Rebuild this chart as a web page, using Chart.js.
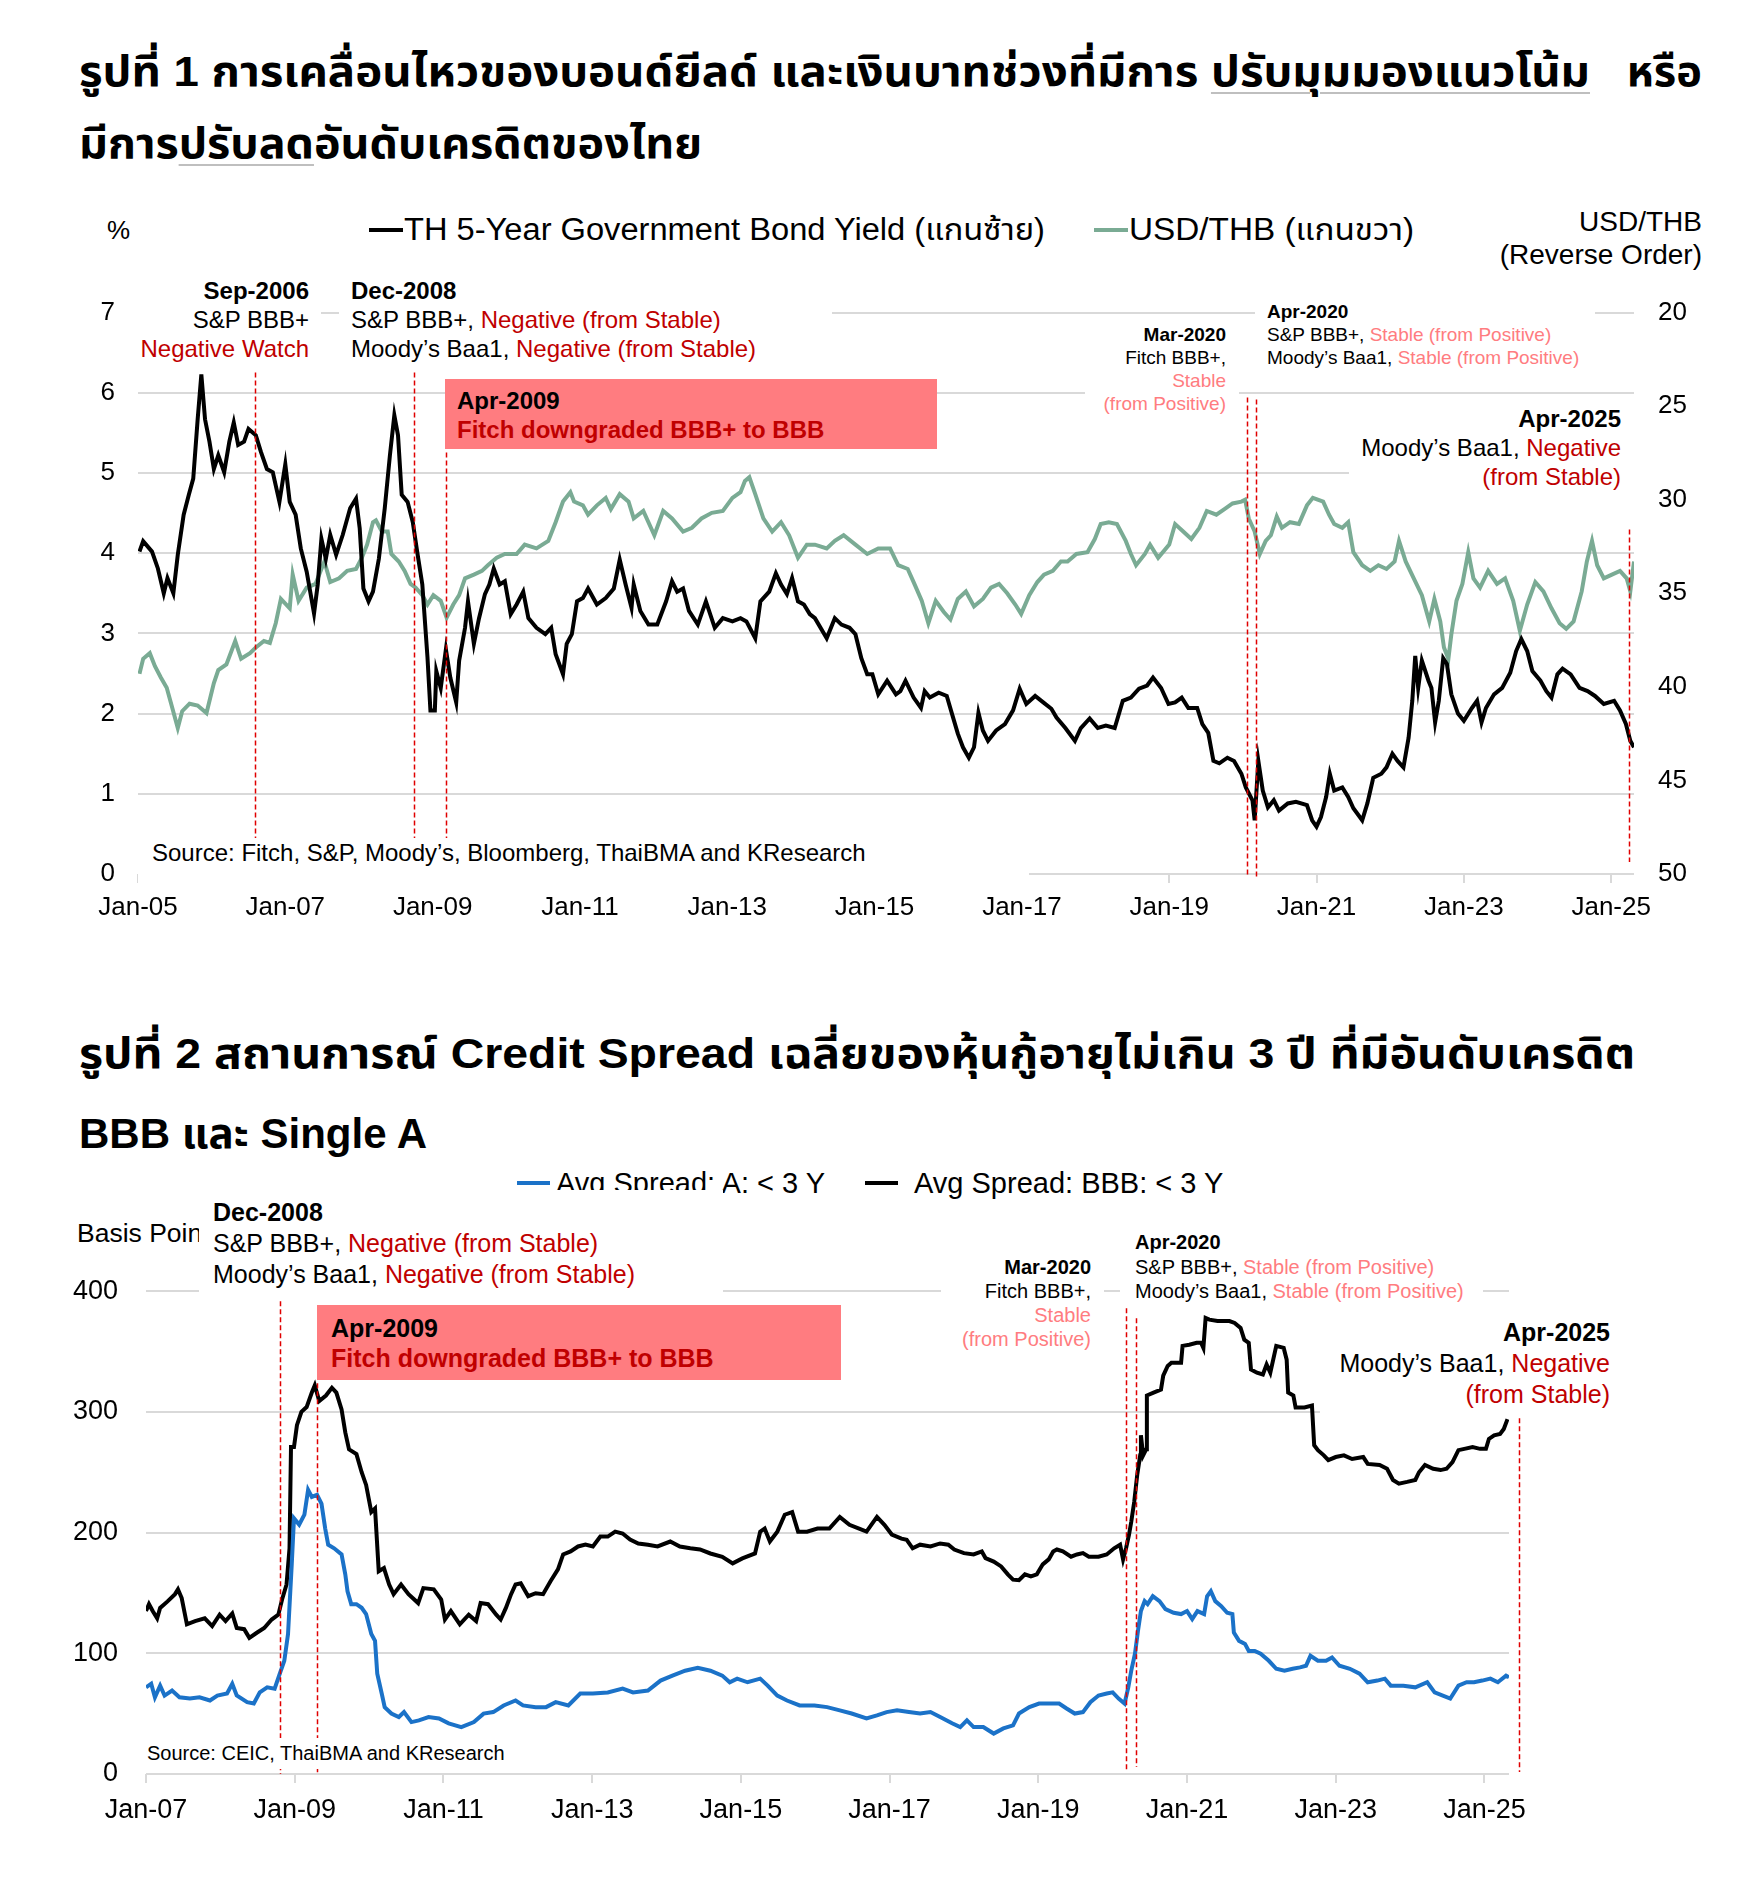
<!DOCTYPE html>
<html>
<head>
<meta charset="utf-8">
<script src="https://cdn.jsdelivr.net/npm/chart.js@4.4.1/dist/chart.umd.min.js"></script>
<style>
  body { margin: 0; width: 1762px; height: 1883px; position: relative; background: #fff; overflow: hidden;
         font-family: "Liberation Sans", Arial, "Noto Sans Thai", "Noto Sans", sans-serif; color: #000; }
  .abs { position: absolute; white-space: nowrap; }
  .title { font-weight: bold; font-size: 42px; line-height: 60px; }
  .ul { text-decoration: underline; text-decoration-color: #bfbfbf; text-decoration-thickness: 2px; text-underline-offset: 6px; }
  .box { background: #fff; }
  .r { color: #C00000; }
  .p { color: #FF7C80; }
  .b { font-weight: bold; }
  .pink { background: #FF7C80; font-weight: bold; }
  .mk { display: inline-block; position: absolute; height: 4px; }
  canvas { position: absolute; left: 0; }
</style>
</head>
<body>

<!-- Figure 1 -->
<div class="abs title fit" data-w="1511" style="left:79px; top:42px;">รูปที่ 1 การเคลื่อนไหวของบอนด์ยีลด์ และเงินบาทช่วงที่มีการ <span class="ul">ปรับมุมมองแนวโน้ม</span></div>
<div class="abs title fit" data-w="75" data-o="right" style="right:60px; top:42px;">หรือ</div>
<div class="abs title fit" data-w="623" style="left:79px; top:114px;">มีการ<span class="ul">ปรับลด</span>อันดับเครดิตของไทย</div>

<div class="abs" style="left:107px; top:212px; font-size:26px; line-height:36px;">%</div>
<div class="mk" style="left:369px; top:228px; width:34px; background:#000;"></div>
<div class="abs fit" data-w="641" style="left:404px; top:211px; font-size:31px; line-height:38px;">TH 5-Year Government Bond Yield (แกนซ้าย)</div>
<div class="mk" style="left:1094px; top:228px; width:34px; background:#7AAB94;"></div>
<div class="abs fit" data-w="285" style="left:1129px; top:211px; font-size:31px; line-height:38px;">USD/THB (แกนขวา)</div>
<div class="abs" style="right:60px; top:205px; font-size:28px; line-height:33px; text-align:right;">USD/THB<br>(Reverse Order)</div>

<canvas id="chart1" width="1762" height="667" style="top:273px;"></canvas>

<div class="abs box" style="left:138px; top:276px; width:171px; height:87px; padding-right:12px; text-align:right; font-size:24px; line-height:29px;"><span class="b">Sep-2006</span><br>S&amp;P BBB+<br><span class="r">Negative Watch</span></div>
<div class="abs box" style="left:339px; top:276px; width:481px; height:87px; padding-left:12px; font-size:24px; line-height:29px;"><span class="b">Dec-2008</span><br>S&amp;P BBB+, <span class="r">Negative (from Stable)</span><br>Moody’s Baa1, <span class="r">Negative (from Stable)</span></div>
<div class="abs pink" style="left:445px; top:379px; width:480px; height:63px; padding:7px 0 0 12px; font-size:24px; line-height:29px;">Apr-2009<br><span class="r">Fitch downgraded BBB+ to BBB</span></div>
<div class="abs box" style="left:1085px; top:323px; width:141px; height:93px; padding-right:13px; text-align:right; font-size:19px; line-height:23px;"><span class="b">Mar-2020</span><br>Fitch BBB+,<br><span class="p">Stable</span><br><span class="p">(from Positive)</span></div>
<div class="abs box" style="left:1255px; top:300px; width:328px; height:70px; padding-left:12px; font-size:19px; line-height:23px;"><span class="b">Apr-2020</span><br>S&amp;P BBB+, <span class="p">Stable (from Positive)</span><br>Moody’s Baa1, <span class="p">Stable (from Positive)</span></div>
<div class="abs box" style="left:1349px; top:404px; width:272px; height:88px; padding-right:13px; text-align:right; font-size:24px; line-height:29px;"><span class="b">Apr-2025</span><br>Moody’s Baa1, <span class="r">Negative</span><br><span class="r">(from Stable)</span></div>
<div class="abs box" style="left:138px; top:838px; width:877px; height:46px; padding-left:14px; font-size:24px; line-height:30px;">Source: Fitch, S&amp;P, Moody’s, Bloomberg, ThaiBMA and KResearch</div>

<!-- Figure 2 -->
<div class="abs title fit" data-w="1556" style="left:79px; top:1024px;">รูปที่ 2 สถานการณ์ Credit Spread เฉลี่ยของหุ้นกู้อายุไม่เกิน 3 ปี ที่มีอันดับเครดิต</div>
<div class="abs title fit" data-w="348" style="left:79px; top:1104px;">BBB และ Single A</div>

<div class="mk" style="left:517px; top:1181px; width:33px; background:#1B72C8;"></div>
<div class="abs" style="left:556px; top:1165px; font-size:29px; line-height:36px;">Avg Spread: A: &lt; 3 Y</div>
<div class="mk" style="left:865px; top:1181px; width:33px; background:#000;"></div>
<div class="abs" style="left:914px; top:1165px; font-size:29px; line-height:36px;">Avg Spread: BBB: &lt; 3 Y</div>
<div class="abs" style="left:77px; top:1218px; font-size:26.5px; line-height:30px;">Basis Points</div>

<canvas id="chart2" width="1762" height="633" style="top:1247px;"></canvas>

<div class="abs box" style="left:199px; top:1190px; width:510px; height:95px; padding:7px 0 0 14px; font-size:25px; line-height:31px;"><span class="b">Dec-2008</span><br>S&amp;P BBB+, <span class="r">Negative (from Stable)</span><br>Moody’s Baa1, <span class="r">Negative (from Stable)</span></div>
<div class="abs pink" style="left:317px; top:1305px; width:510px; height:67px; padding:8px 0 0 14px; font-size:25px; line-height:30px;">Apr-2009<br><span class="r">Fitch downgraded BBB+ to BBB</span></div>
<div class="abs box" style="left:941px; top:1255px; width:150px; height:96px; padding-right:13px; text-align:right; font-size:20px; line-height:24px;"><span class="b">Mar-2020</span><br>Fitch BBB+,<br><span class="p">Stable</span><br><span class="p">(from Positive)</span></div>
<div class="abs box" style="left:1120px; top:1230px; width:348px; height:74px; padding-left:15px; font-size:20px; line-height:24.5px;"><span class="b">Apr-2020</span><br>S&amp;P BBB+, <span class="p">Stable (from Positive)</span><br>Moody’s Baa1, <span class="p">Stable (from Positive)</span></div>
<div class="abs box" style="left:1320px; top:1317px; width:290px; height:96px; padding-right:10px; text-align:right; font-size:25px; line-height:31px;"><span class="b">Apr-2025</span><br>Moody’s Baa1, <span class="r">Negative</span><br><span class="r">(from Stable)</span></div>
<div class="abs box" style="left:146px; top:1738px; width:373px; height:31px; padding-left:1px; font-size:20px; line-height:30px;">Source: CEIC, ThaiBMA and KResearch</div>

<script>
// ---- Figure 1 data (decimal years) ----
const bondYears = [
  2005.02,2005.07,2005.19,2005.27,2005.35,2005.40,2005.48,2005.54,2005.62,2005.69,
  2005.75,2005.81,2005.86,2005.91,2005.97,2006.03,2006.09,2006.17,2006.24,2006.30,
  2006.36,2006.44,2006.50,2006.60,2006.67,2006.75,2006.83,2006.92,2007.00,2007.06,
  2007.14,2007.21,2007.29,2007.39,2007.44,2007.49,2007.55,2007.61,2007.69,2007.78,
  2007.88,2007.96,2008.01,2008.06,2008.13,2008.19,2008.27,2008.35,2008.42,2008.48,
  2008.53,2008.58,2008.66,2008.73,2008.79,2008.86,2008.93,2008.97,2009.03,2009.05,
  2009.11,2009.18,2009.24,2009.32,2009.36,2009.44,2009.48,2009.56,2009.63,2009.71,
  2009.77,2009.83,2009.91,2009.98,2010.06,2010.14,2010.23,2010.30,2010.41,2010.53,
  2010.61,2010.67,2010.77,2010.82,2010.89,2010.96,2011.04,2011.11,2011.23,2011.35,
  2011.46,2011.54,2011.62,2011.70,2011.73,2011.82,2011.93,2012.05,2012.17,2012.25,
  2012.32,2012.40,2012.48,2012.60,2012.71,2012.83,2012.94,2013.07,2013.18,2013.26,
  2013.38,2013.45,2013.57,2013.66,2013.73,2013.81,2013.88,2013.96,2014.04,2014.12,
  2014.19,2014.35,2014.46,2014.55,2014.66,2014.74,2014.82,2014.90,2014.97,2015.05,
  2015.17,2015.29,2015.35,2015.42,2015.53,2015.63,2015.68,2015.75,2015.87,2015.98,
  2016.05,2016.13,2016.20,2016.28,2016.35,2016.41,2016.47,2016.54,2016.65,2016.77,
  2016.88,2016.97,2017.06,2017.18,2017.29,2017.40,2017.47,2017.59,2017.72,2017.80,
  2017.92,2018.03,2018.14,2018.26,2018.37,2018.48,2018.59,2018.70,2018.78,2018.89,
  2018.99,2019.08,2019.17,2019.26,2019.38,2019.45,2019.53,2019.60,2019.68,2019.79,
  2019.88,2019.98,2020.04,2020.13,2020.16,2020.21,2020.27,2020.34,2020.42,2020.49,
  2020.61,2020.72,2020.87,2020.94,2021.00,2021.06,2021.13,2021.18,2021.24,2021.35,
  2021.43,2021.50,2021.62,2021.69,2021.77,2021.88,2021.95,2022.03,2022.10,2022.18,
  2022.25,2022.30,2022.34,2022.38,2022.43,2022.52,2022.56,2022.61,2022.66,2022.72,
  2022.77,2022.83,2022.92,2023.00,2023.11,2023.18,2023.24,2023.30,2023.41,2023.52,
  2023.63,2023.71,2023.78,2023.86,2023.93,2024.04,2024.12,2024.19,2024.27,2024.34,
  2024.45,2024.57,2024.68,2024.78,2024.90,2025.04,2025.12,2025.20,2025.26,2025.31
];
const bondYield = [
  4.02,4.15,4.02,3.81,3.50,3.69,3.50,3.98,4.48,4.73,
  4.93,5.67,6.23,5.67,5.39,5.05,5.22,5.01,5.39,5.63,
  5.35,5.39,5.55,5.47,5.26,5.05,5.01,4.64,5.11,4.64,
  4.48,4.06,3.77,3.25,3.61,4.18,3.93,4.23,3.98,4.23,
  4.56,4.68,4.31,3.56,3.40,3.52,3.93,4.56,5.22,5.72,
  5.47,4.73,4.64,4.39,4.02,3.61,2.70,2.04,2.04,2.53,
  2.32,2.80,2.45,2.14,2.66,3.07,3.40,2.87,3.19,3.49,
  3.61,3.81,3.61,3.65,3.24,3.36,3.52,3.19,3.07,2.99,
  3.07,2.74,2.49,2.87,2.99,3.40,3.44,3.56,3.36,3.44,
  3.56,3.92,3.61,3.32,3.61,3.28,3.11,3.11,3.40,3.65,
  3.52,3.56,3.28,3.11,3.40,3.07,3.19,3.15,3.19,3.15,
  2.94,3.40,3.52,3.75,3.61,3.49,3.69,3.40,3.36,3.24,
  3.19,2.94,3.19,3.11,3.07,2.99,2.69,2.49,2.49,2.24,
  2.41,2.24,2.28,2.41,2.20,2.07,2.28,2.20,2.26,2.22,
  2.00,1.75,1.58,1.45,1.58,2.01,1.79,1.66,1.79,1.87,
  2.04,2.31,2.12,2.22,2.14,2.06,1.95,1.82,1.66,1.82,
  1.94,1.82,1.85,1.82,2.16,2.20,2.31,2.35,2.45,2.32,
  2.12,2.14,2.20,2.07,2.07,1.87,1.76,1.41,1.38,1.45,
  1.41,1.25,1.08,0.92,0.67,1.41,1.04,0.83,0.92,0.79,
  0.88,0.90,0.86,0.67,0.59,0.71,0.96,1.25,1.04,1.08,
  0.96,0.82,0.67,0.88,1.20,1.25,1.33,1.50,1.41,1.33,
  1.70,2.16,2.72,2.32,2.66,2.41,2.32,1.89,2.16,2.69,
  2.62,2.24,2.00,1.91,2.07,2.16,1.89,2.07,2.24,2.32,
  2.51,2.78,2.93,2.78,2.53,2.41,2.28,2.20,2.49,2.56,
  2.49,2.32,2.28,2.22,2.12,2.16,2.04,1.87,1.66,1.58
];
const fxYears = [
  2005.02,2005.07,2005.16,2005.23,2005.31,2005.39,2005.45,2005.54,2005.60,2005.70,
  2005.81,2005.93,2006.03,2006.09,2006.20,2006.32,2006.40,2006.52,2006.60,2006.71,
  2006.79,2006.87,2006.94,2007.06,2007.10,2007.18,2007.29,2007.41,2007.53,2007.61,
  2007.73,2007.84,2007.96,2008.04,2008.11,2008.19,2008.23,2008.31,2008.39,2008.44,
  2008.54,2008.62,2008.70,2008.77,2008.86,2008.93,2009.01,2009.11,2009.19,2009.28,
  2009.36,2009.44,2009.56,2009.67,2009.75,2009.87,2009.98,2010.14,2010.25,2010.41,
  2010.57,2010.67,2010.77,2010.87,2010.92,2011.04,2011.11,2011.23,2011.35,2011.42,
  2011.54,2011.66,2011.73,2011.86,2012.01,2012.13,2012.25,2012.40,2012.52,2012.65,
  2012.79,2012.94,2013.07,2013.18,2013.24,2013.30,2013.38,2013.49,2013.61,2013.73,
  2013.84,2013.96,2014.08,2014.19,2014.35,2014.46,2014.58,2014.74,2014.90,2015.05,
  2015.21,2015.32,2015.45,2015.53,2015.64,2015.73,2015.83,2015.94,2016.03,2016.13,
  2016.24,2016.35,2016.47,2016.58,2016.69,2016.80,2016.91,2016.99,2017.10,2017.21,
  2017.30,2017.42,2017.53,2017.62,2017.74,2017.89,2017.99,2018.07,2018.18,2018.29,
  2018.41,2018.48,2018.55,2018.67,2018.74,2018.85,2019.00,2019.08,2019.19,2019.30,
  2019.41,2019.51,2019.64,2019.75,2019.86,2019.98,2020.03,2020.08,2020.16,2020.23,
  2020.31,2020.38,2020.46,2020.53,2020.64,2020.76,2020.87,2020.95,2021.09,2021.17,
  2021.24,2021.35,2021.43,2021.50,2021.62,2021.73,2021.84,2021.95,2022.06,2022.12,
  2022.21,2022.32,2022.43,2022.53,2022.60,2022.68,2022.73,2022.79,2022.83,2022.90,
  2022.98,2023.06,2023.13,2023.22,2023.33,2023.45,2023.56,2023.67,2023.76,2023.86,
  2023.97,2024.08,2024.19,2024.30,2024.39,2024.49,2024.60,2024.67,2024.74,2024.81,
  2024.90,2025.01,2025.12,2025.21,2025.26,2025.31
];
const fxRate = [
  39.3,38.5,38.2,38.9,39.5,40.05,40.9,42.2,41.3,40.9,
  41.0,41.4,39.8,39.1,38.8,37.55,38.5,38.2,37.9,37.55,
  37.65,36.6,35.3,35.8,34.0,35.4,34.7,34.5,33.3,34.4,
  34.2,33.8,33.7,33.1,32.4,31.2,31.1,31.7,31.7,32.9,
  33.3,33.8,34.5,34.7,35.1,35.6,35.1,35.4,36.3,35.6,
  35.1,34.2,34.0,33.8,33.5,33.1,32.9,32.9,32.4,32.6,
  32.2,31.2,30.1,29.6,30.1,30.3,30.8,30.3,29.9,30.5,
  29.7,30.1,31.0,30.6,31.9,30.6,31.0,31.7,31.5,31.0,
  30.7,30.6,29.9,29.6,29.0,28.8,29.7,31.0,31.7,31.2,
  31.9,33.1,32.4,32.4,32.6,32.2,31.9,32.4,32.9,32.6,
  32.6,33.5,33.7,34.4,35.4,36.6,35.4,36.0,36.4,35.3,
  34.9,35.7,35.3,34.7,34.5,35.0,35.6,36.1,35.1,34.4,
  34.0,33.8,33.3,33.3,32.9,32.8,32.1,31.3,31.2,31.3,
  32.2,32.9,33.5,32.9,32.4,33.1,32.4,31.3,31.7,32.1,
  31.5,30.6,30.8,30.5,30.2,30.1,30.0,31.0,31.7,32.9,
  32.2,31.9,30.9,31.5,31.2,31.3,30.3,29.9,30.1,30.8,
  31.3,31.5,31.2,32.8,33.5,33.8,33.5,33.7,33.3,32.2,
  33.3,34.2,35.1,36.5,35.3,36.5,37.9,38.5,37.2,35.4,
  34.5,32.8,34.2,34.7,33.8,34.5,34.2,35.4,37.0,35.6,
  34.4,34.9,35.8,36.6,36.9,36.5,34.9,33.3,32.2,33.5,
  34.2,34.0,33.8,34.2,34.9,33.3
];
const xTickYears1 = [2005,2007,2009,2011,2013,2015,2017,2019,2021,2023,2025];
const xTickLabels1 = ['Jan-05','Jan-07','Jan-09','Jan-11','Jan-13','Jan-15','Jan-17','Jan-19','Jan-21','Jan-23','Jan-25'];
const leftTicks1 = [0,1,2,3,4,5,6,7];
const rightTicks1 = [20,25,30,35,40,45,50];
const eventNames1 = ['Sep-2006','Dec-2008','Apr-2009','Mar-2020','Apr-2020','Apr-2025'];
const eventYears1 = [2006.59,2008.75,2009.18,2020.06,2020.18,2025.24];

// ---- Figure 2 data ----
const spreadYearsA = [
  2007.00,2007.07,2007.12,2007.19,2007.25,2007.35,2007.45,2007.59,2007.72,2007.86,
  2007.96,2008.09,2008.16,2008.22,2008.36,2008.45,2008.53,2008.63,2008.73,2008.79,
  2008.86,2008.91,2008.96,2008.99,2009.06,2009.13,2009.18,2009.23,2009.30,2009.36,
  2009.41,2009.45,2009.53,2009.63,2009.68,2009.71,2009.76,2009.83,2009.90,2009.96,
  2010.03,2010.08,2010.11,2010.17,2010.21,2010.30,2010.40,2010.47,2010.57,2010.67,
  2010.80,2010.94,2011.07,2011.24,2011.41,2011.54,2011.67,2011.81,2011.97,2012.07,
  2012.24,2012.38,2012.51,2012.68,2012.84,2013.01,2013.21,2013.41,2013.55,2013.75,
  2013.92,2014.08,2014.25,2014.42,2014.59,2014.75,2014.85,2014.95,2015.09,2015.26,
  2015.36,2015.49,2015.62,2015.79,2015.99,2016.16,2016.33,2016.49,2016.69,2016.83,
  2016.96,2017.10,2017.26,2017.41,2017.55,2017.68,2017.84,2017.95,2018.04,2018.13,
  2018.26,2018.40,2018.53,2018.66,2018.74,2018.88,2019.01,2019.14,2019.28,2019.38,
  2019.49,2019.60,2019.70,2019.81,2019.92,2020.00,2020.08,2020.16,2020.21,2020.25,
  2020.30,2020.34,2020.38,2020.43,2020.47,2020.54,2020.63,2020.71,2020.82,2020.92,
  2021.00,2021.07,2021.14,2021.23,2021.27,2021.32,2021.38,2021.46,2021.54,2021.61,
  2021.63,2021.70,2021.78,2021.83,2021.91,2021.99,2022.10,2022.20,2022.31,2022.42,
  2022.52,2022.60,2022.66,2022.76,2022.87,2022.95,2023.05,2023.19,2023.32,2023.43,
  2023.56,2023.66,2023.74,2023.91,2024.07,2024.23,2024.33,2024.44,2024.54,2024.65,
  2024.76,2024.86,2024.97,2025.08,2025.18,2025.29,2025.33
];
const spreadA = [
  71.8,74.8,63.6,73.2,65,69.1,63.6,62.5,63.6,60.9,
  65,66.7,74.8,65,59.5,58.4,67.6,71.8,70.7,81.5,
  93.8,116,173.7,211.8,206.6,214.8,235.4,229.6,231.3,224,
  203.3,190,187,181.9,165.4,151.4,140.7,140.7,137.7,132.5,
  116,110.3,83.1,66.7,55.3,50.1,47.2,51.3,43,44.4,
  47.2,46,42,38.9,43,50,51.3,56.8,60.9,56.8,
  55.4,55.4,59.5,56.8,66.7,66.7,67.6,70.7,67.6,69.1,
  77.4,81.5,85.6,88,85.6,81.5,76,79,76,79,
  73.2,65,60.9,56.8,56.8,55.4,52.7,50.1,46,48.6,
  51.3,52.7,51.3,50.1,51.3,47.2,42,38.9,44.4,38.9,
  38.9,33.5,37.8,40.3,50.1,55.4,58.4,58.4,58.4,54.3,
  50.1,51.3,59.5,65,66.7,67.6,62.5,58.4,71.8,85.6,
  99.6,118.5,135,143.2,140.7,147.3,143.2,136.6,133.6,132.5,
  135,128.4,135,132.5,147.3,151.4,143.2,139.1,133.6,132.5,
  117.1,110.3,107.8,102,102,99.6,93.8,87.2,85.6,87.2,
  88.3,89.7,97.9,93.8,93.8,96.5,89.7,87.2,83.1,76,
  77.4,79,73.2,73.2,71.8,76,67.6,65,62.5,73.2,
  76,76,77.4,79,76,81.5,80.1
];
const spreadYearsBBB = [
  2007.00,2007.04,2007.09,2007.15,2007.19,2007.29,2007.39,2007.43,2007.48,2007.55,
  2007.66,2007.79,2007.89,2007.99,2008.07,2008.16,2008.22,2008.32,2008.39,2008.49,
  2008.59,2008.69,2008.78,2008.83,2008.89,2008.93,2008.95,2008.99,2009.03,2009.09,
  2009.16,2009.23,2009.27,2009.33,2009.42,2009.50,2009.56,2009.63,2009.68,2009.73,
  2009.83,2009.90,2009.96,2010.03,2010.08,2010.13,2010.20,2010.27,2010.33,2010.43,
  2010.53,2010.66,2010.73,2010.87,2010.97,2011.02,2011.10,2011.22,2011.34,2011.44,
  2011.50,2011.60,2011.71,2011.77,2011.84,2011.91,2011.97,2012.04,2012.14,2012.24,
  2012.34,2012.44,2012.54,2012.61,2012.71,2012.81,2012.91,2013.01,2013.11,2013.21,
  2013.31,2013.41,2013.51,2013.62,2013.75,2013.88,2014.05,2014.18,2014.32,2014.45,
  2014.59,2014.75,2014.89,2015.02,2015.19,2015.26,2015.32,2015.39,2015.49,2015.59,
  2015.69,2015.77,2015.89,2016.03,2016.19,2016.33,2016.46,2016.59,2016.69,2016.83,
  2016.93,2017.03,2017.16,2017.23,2017.31,2017.41,2017.55,2017.68,2017.79,2017.87,
  2018.00,2018.13,2018.24,2018.29,2018.40,2018.50,2018.59,2018.66,2018.74,2018.82,
  2018.90,2018.98,2019.06,2019.14,2019.20,2019.25,2019.33,2019.44,2019.52,2019.60,
  2019.68,2019.81,2019.92,2020.02,2020.10,2020.14,2020.18,2020.22,2020.25,2020.29,
  2020.33,2020.37,2020.38,2020.41,2020.45,2020.46,2020.55,2020.65,2020.68,2020.74,
  2020.79,2020.92,2020.94,2021.03,2021.13,2021.19,2021.22,2021.25,2021.30,2021.41,
  2021.57,2021.64,2021.72,2021.77,2021.83,2021.86,2021.94,2022.02,2022.07,2022.12,
  2022.20,2022.30,2022.34,2022.36,2022.43,2022.46,2022.58,2022.68,2022.71,2022.76,
  2022.84,2022.90,2023.00,2023.11,2023.22,2023.37,2023.43,2023.59,2023.69,2023.77,
  2023.85,2023.96,2024.07,2024.12,2024.20,2024.31,2024.41,2024.49,2024.57,2024.65,
  2024.73,2024.84,2024.94,2025.02,2025.06,2025.13,2025.21,2025.26,2025.31
];
const spreadBBB = [
  135,140.7,135,129,137.6,143,149,153,145.8,124,
  126.7,129,122.6,132,126.7,133,121,120,112.8,117,
  121,128,132,144.6,157,187,271,271,289,300,
  304,316,322,309,313.6,320,316,302,283,269,
  265,250,239.5,217,220,168,170.6,157,149,157,
  149,141.6,154,153,144.6,128,135,124,132,126.7,
  141.6,140.7,132,128,137.6,149,157,158,147.3,149.8,
  149,159.7,169.5,181.9,184.4,188.5,190,188.5,196.7,196.7,
  200.8,199.2,194.2,191,190,188.5,192.6,188.5,187,186,
  182.7,180,174.5,178.6,182.7,200.8,203.3,192.6,200.8,214.8,
  217,200.8,200.8,203.3,203.3,213,206.4,203.3,200.8,213,
  206.4,198.4,195,194,187,190,188.5,191,190,186,
  183,181.9,184.4,178.9,176,172,165.4,161,160.5,165.4,
  163.8,165.4,173.7,177.8,184.4,186,184.4,180,181.9,183,
  180,180,181.9,187,190,177.8,187,198.4,209,225.5,
  247.7,264,280.6,264,269,313.6,316,318.5,330,338,
  340.7,340.7,354.7,355.6,357.2,357.2,353,377.8,376.4,375.3,
  375.3,373.7,369.5,359.8,357.2,335.2,332.5,331,339.3,332.5,
  354.7,353,343.3,316,313.6,303.7,303.7,305.3,272.4,268.3,
  264,260,262.6,264,261,262.6,256.9,256,252.9,243.6,
  240.6,242,243.6,250,256,252.9,251.8,252.9,258.4,268.3,
  269.4,270.8,269.4,269.4,277.6,280.6,281.7,285.8,294
];
const xTickYears2 = [2007,2009,2011,2013,2015,2017,2019,2021,2023,2025];
const xTickLabels2 = ['Jan-07','Jan-09','Jan-11','Jan-13','Jan-15','Jan-17','Jan-19','Jan-21','Jan-23','Jan-25'];
const yTicks2 = [0,100,200,300,400];
const eventNames2 = ['Dec-2008','Apr-2009','Mar-2020','Apr-2020','Apr-2025'];
const eventYears2 = [2008.80,2009.30,2020.18,2020.32,2025.47];

// how far each dashed marker line reaches (px from top / bottom of plot area)
const lineTop1 = [60,60,140,85,87,217], lineBottom1 = [0,0,0,3,5,-12];
const lineTop2 = [10,92,17,27,127], lineBottom2 = [0,0,-2,-7,-2];

const FONT = '"Liberation Sans", Arial, sans-serif';
const GRID = '#D9D9D9';

// stretch titles / legend texts to the widths they take in the original
document.querySelectorAll('.fit').forEach(el => {
  const w = el.getBoundingClientRect().width;
  el.style.transformOrigin = el.dataset.o === 'right' ? 'right center' : 'left center';
  el.style.transform = 'scaleX(' + (el.dataset.w / w).toFixed(4) + ')';
});

const toPoints = (xs, ys) => xs.map((x, i) => ({ x: x, y: ys[i] }));

const eventLines = {
  id: 'eventLines',
  afterDatasetsDraw(chart, args, opts) {
    const ctx = chart.ctx, area = chart.chartArea, xs = chart.scales.x;
    ctx.save();
    ctx.strokeStyle = '#E00000';
    ctx.lineWidth = 1.5;
    ctx.setLineDash([5, 3]);
    opts.years.forEach((yr, i) => {
      const x = Math.round(xs.getPixelForValue(yr)) + 0.5;
      ctx.beginPath();
      ctx.moveTo(x, area.top + opts.tops[i]);
      ctx.lineTo(x, area.bottom + opts.bottoms[i]);
      ctx.stroke();
    });
    ctx.restore();
  }
};

function xAxis(min, max, years, labels, size, pad, height) {
  return {
    type: 'linear', min: min, max: max,
    afterBuildTicks: (ax) => { ax.ticks = years.map(v => ({ value: v })); },
    afterFit: (ax) => { ax.height = height; },
    ticks: {
      autoSkip: false, maxRotation: 0, padding: pad, color: '#000',
      font: { family: FONT, size: size },
      callback: (v) => labels[years.indexOf(v)]
    },
    grid: { drawOnChartArea: false, drawTicks: true, tickLength: 9, color: GRID, lineWidth: 2 },
    border: { display: false }
  };
}

new Chart(document.getElementById('chart1'), {
  type: 'line',
  data: {
    datasets: [
      { label: 'TH 5-Year Government Bond Yield (แกนซ้าย)', data: toPoints(bondYears, bondYield),
        yAxisID: 'y', borderColor: '#000', borderWidth: 4, pointRadius: 0, tension: 0 },
      { label: 'USD/THB (แกนขวา)', data: toPoints(fxYears, fxRate),
        yAxisID: 'y2', borderColor: '#7AAB94', borderWidth: 4, pointRadius: 0, tension: 0 }
    ]
  },
  options: {
    responsive: false, animation: false,
    layout: { padding: { top: 10, left: 0, right: 0, bottom: 0 } },
    plugins: {
      legend: { display: false }, tooltip: { enabled: false },
      eventLines: { years: eventYears1, tops: lineTop1, bottoms: lineBottom1 }
    },
    scales: {
      x: xAxis(2005, 2025.31, xTickYears1, xTickLabels1, 26, 9, 66),
      y: {
        position: 'left', min: 0, max: 7,
        afterBuildTicks: (ax) => { ax.ticks = leftTicks1.map(v => ({ value: v })); },
        afterFit: (ax) => { ax.width = 138; },
        ticks: { padding: 23, color: '#000', font: { family: FONT, size: 26 } },
        grid: { color: GRID, lineWidth: 2, drawTicks: false },
        border: { display: false }
      },
      y2: {
        position: 'right', min: 20, max: 50, reverse: true,
        afterBuildTicks: (ax) => { ax.ticks = rightTicks1.map(v => ({ value: v })); },
        afterFit: (ax) => { ax.width = 128; },
        ticks: { padding: 24, color: '#000', font: { family: FONT, size: 26 } },
        grid: { display: false, drawTicks: false },
        border: { display: false }
      }
    }
  },
  plugins: [eventLines]
});

new Chart(document.getElementById('chart2'), {
  type: 'line',
  data: {
    datasets: [
      { label: 'Avg Spread: A: < 3 Y', data: toPoints(spreadYearsA, spreadA),
        borderColor: '#1B72C8', borderWidth: 4, pointRadius: 0, tension: 0 },
      { label: 'Avg Spread: BBB: < 3 Y', data: toPoints(spreadYearsBBB, spreadBBB),
        borderColor: '#000', borderWidth: 4, pointRadius: 0, tension: 0 }
    ]
  },
  options: {
    responsive: false, animation: false,
    layout: { padding: { top: 8, left: 0, right: 253, bottom: 0 } },
    plugins: {
      legend: { display: false }, tooltip: { enabled: false },
      eventLines: { years: eventYears2, tops: lineTop2, bottoms: lineBottom2 }
    },
    scales: {
      x: xAxis(2007, 2025.33, xTickYears2, xTickLabels2, 27, 11, 106),
      y: {
        position: 'left', min: 0, max: 400,
        afterBuildTicks: (ax) => { ax.ticks = yTicks2.map(v => ({ value: v })); },
        afterFit: (ax) => { ax.width = 146; },
        ticks: { padding: 28, color: '#000', font: { family: FONT, size: 27 } },
        grid: { color: GRID, lineWidth: 2, drawTicks: false },
        border: { display: false }
      }
    }
  },
  plugins: [eventLines]
});
</script>
</body>
</html>
